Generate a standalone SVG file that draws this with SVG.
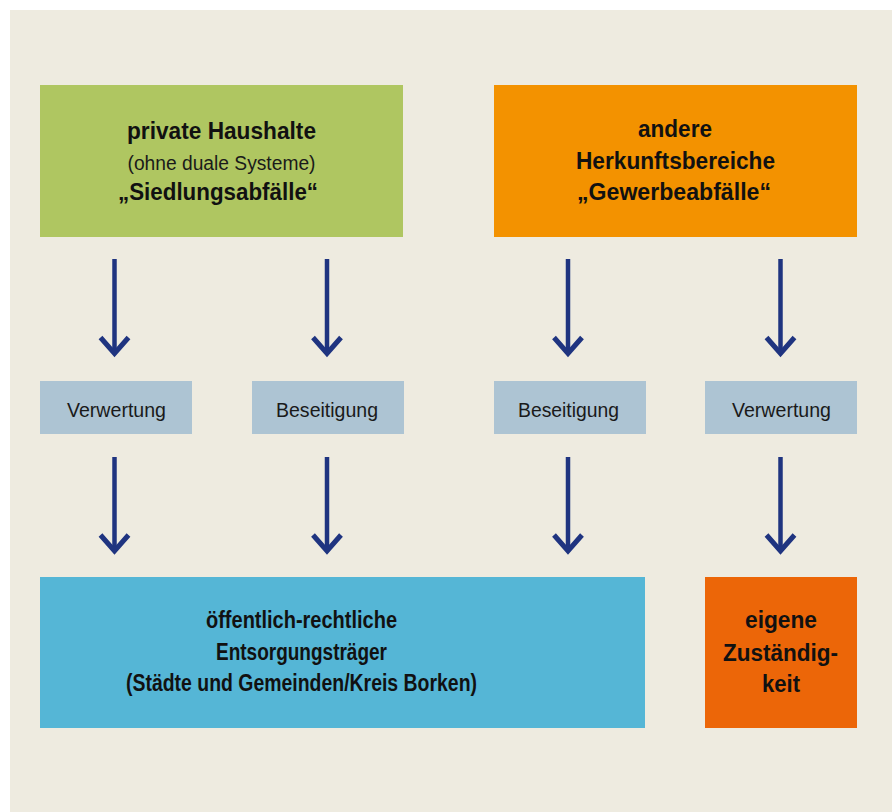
<svg xmlns="http://www.w3.org/2000/svg" width="892" height="812" viewBox="0 0 892 812">
  <style>
    .b { font-family: "Liberation Sans", Arial, sans-serif; font-weight: bold; font-size: 23px; fill: #111; text-anchor: middle; }
    .bl { font-family: "Liberation Sans", Arial, sans-serif; font-weight: bold; font-size: 23px; fill: #111; text-anchor: middle; }
    .n { font-family: "Liberation Sans", Arial, sans-serif; font-size: 19.5px; fill: #1a1a1a; text-anchor: middle; }
    .conn line { stroke: #1f3480; stroke-width: 4.5; marker-end: url(#head); }
  </style>
  <defs>
    <marker id="head" markerUnits="userSpaceOnUse" markerWidth="40" markerHeight="40" refX="0" refY="0" orient="auto" overflow="visible" viewBox="-20 -20 40 40">
      <path d="M-16,-14 L0,0 L-16,14" fill="none" stroke="#1f3480" stroke-width="5" stroke-linejoin="miter"/>
    </marker>
  </defs>
  <rect x="0" y="0" width="892" height="812" fill="#ffffff"/>
  <rect x="10" y="10" width="882" height="802" fill="#eeebe0"/>

  <g id="private-haushalte">
    <rect x="40" y="85" width="363" height="152" fill="#afc661"/>
    <text class="b" x="221.5" y="139" textLength="189" lengthAdjust="spacingAndGlyphs">private Haushalte</text>
    <text class="n" x="221.5" y="170" textLength="188" lengthAdjust="spacingAndGlyphs">(ohne duale Systeme)</text>
    <text class="b" x="218" y="200" textLength="200" lengthAdjust="spacingAndGlyphs">„Siedlungsabfälle“</text>
  </g>

  <g id="andere-herkunftsbereiche">
    <rect x="494" y="85" width="363" height="152" fill="#f39200"/>
    <text class="b" x="675" y="137" textLength="74" lengthAdjust="spacingAndGlyphs">andere</text>
    <text class="b" x="675.5" y="169" textLength="199" lengthAdjust="spacingAndGlyphs">Herkunftsbereiche</text>
    <text class="b" x="674" y="200" textLength="194" lengthAdjust="spacingAndGlyphs">„Gewerbeabfälle“</text>
  </g>

  <g id="verwertung-1">
    <rect x="40" y="381" width="152" height="53" fill="#adc4d3"/>
    <text class="n" x="116.5" y="417" textLength="99" lengthAdjust="spacingAndGlyphs">Verwertung</text>
  </g>
  <g id="beseitigung-1">
    <rect x="252" y="381" width="152" height="53" fill="#adc4d3"/>
    <text class="n" x="327" y="417" textLength="102" lengthAdjust="spacingAndGlyphs">Beseitigung</text>
  </g>
  <g id="beseitigung-2">
    <rect x="494" y="381" width="152" height="53" fill="#adc4d3"/>
    <text class="n" x="568.5" y="417" textLength="101" lengthAdjust="spacingAndGlyphs">Beseitigung</text>
  </g>
  <g id="verwertung-2">
    <rect x="705" y="381" width="152" height="53" fill="#adc4d3"/>
    <text class="n" x="781.5" y="417" textLength="99" lengthAdjust="spacingAndGlyphs">Verwertung</text>
  </g>

  <g id="oeffentlich-rechtliche">
    <rect x="40" y="577" width="605" height="151" fill="#55b6d6"/>
    <text class="bl" x="301.5" y="628" textLength="191" lengthAdjust="spacingAndGlyphs">öffentlich-rechtliche</text>
    <text class="bl" x="301.5" y="660" textLength="171" lengthAdjust="spacingAndGlyphs">Entsorgungsträger</text>
    <text class="bl" x="301.5" y="691" textLength="351" lengthAdjust="spacingAndGlyphs">(Städte und Gemeinden/Kreis Borken)</text>
  </g>

  <g id="eigene-zustaendigkeit">
    <rect x="705" y="577" width="152" height="151" fill="#ec6608"/>
    <text class="b" x="781" y="628" textLength="72" lengthAdjust="spacingAndGlyphs">eigene</text>
    <text class="b" x="780.5" y="661" textLength="115" lengthAdjust="spacingAndGlyphs">Zuständig-</text>
    <text class="b" x="781" y="692" textLength="38" lengthAdjust="spacingAndGlyphs">keit</text>
  </g>

  <g id="connectors" class="conn">
    <line x1="114.5" y1="259" x2="114.5" y2="353.5"/>
    <line x1="327" y1="259" x2="327" y2="353.5"/>
    <line x1="568" y1="259" x2="568" y2="353.5"/>
    <line x1="780.5" y1="259" x2="780.5" y2="353.5"/>
    <line x1="114.5" y1="457" x2="114.5" y2="551"/>
    <line x1="327" y1="457" x2="327" y2="551"/>
    <line x1="568" y1="457" x2="568" y2="551"/>
    <line x1="780.5" y1="457" x2="780.5" y2="551"/>
  </g>
</svg>
